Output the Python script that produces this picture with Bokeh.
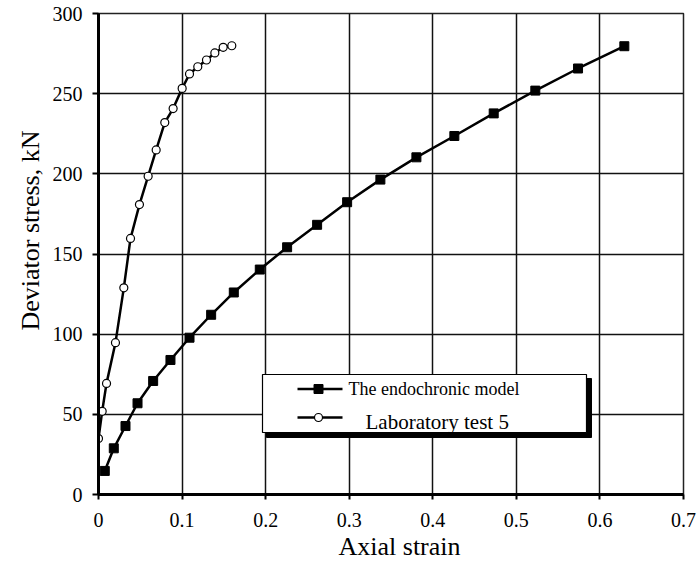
from bokeh.plotting import figure
from bokeh.models import Range1d, FixedTicker, Title
from bokeh.embed import file_html
from bokeh.resources import INLINE
from bokeh.core.properties import value

# Endochronic model prediction (axial strain vs deviator stress, kN)
model_strain = [0.0075, 0.0183, 0.0323, 0.0467, 0.0654, 0.0861, 0.1089, 0.1348,
                0.1619, 0.1930, 0.2257, 0.2616, 0.2975, 0.3373, 0.3804, 0.4258,
                0.4729, 0.5227, 0.5738, 0.6292]
model_stress = [14.7, 28.8, 42.7, 56.9, 70.8, 83.9, 97.8, 112.1,
                126.0, 140.3, 154.2, 168.2, 182.3, 196.4, 210.3, 223.6,
                237.7, 251.9, 265.7, 279.6]

# Laboratory test 5
lab_strain = [0.0, 0.0044, 0.0096, 0.0203, 0.0303, 0.0383, 0.0490, 0.0594,
              0.0690, 0.0793, 0.0893, 0.1001, 0.1089, 0.1188, 0.1292, 0.1392,
              0.1492, 0.1595]
lab_stress = [34.9, 51.9, 69.3, 94.7, 128.9, 159.7, 180.8, 198.5,
              214.9, 232.0, 240.7, 253.3, 262.3, 266.8, 271.0, 275.4,
              278.9, 279.9]

x_ticks = [0, 0.1, 0.2, 0.3, 0.4, 0.5, 0.6, 0.7]
y_ticks = [0, 50, 100, 150, 200, 250, 300]

series_names = ["The endochronic model", "Laboratory test 5"]
x_title = "Axial strain"
y_title = "Deviator stress, kN"

SERIF = "Liberation Serif"

W, H = 697, 563
BL, BR, BT, BB = 98, 14, 13, 69
X0, X1 = 0.0, 0.7
Y0, Y1 = 0.0, 300.0

p = figure(width=W, height=H, output_backend="svg", toolbar_location=None,
           x_range=Range1d(X0, X1), y_range=Range1d(Y0, Y1),
           min_border_left=BL, min_border_right=BR,
           min_border_top=BT, min_border_bottom=BB)
p.background_fill_color = "white"
p.border_fill_color = "white"
p.outline_line_color = "#222222"
p.outline_line_width = 1.5

# pixel -> data helpers for placing the legend box
fw = W - BL - BR
fh = H - BT - BB
def fx(px):
    return X0 + (px - BL) / fw * (X1 - X0)
def fy(py):
    return Y0 + (H - BB - py) / fh * (Y1 - Y0)

for ax, ticks in ((p.xaxis, x_ticks), (p.yaxis, y_ticks)):
    ax.ticker = FixedTicker(ticks=ticks)
    ax.axis_line_width = 3
    ax.axis_line_color = "black"
    ax.major_tick_line_width = 2
    ax.major_tick_line_color = "black"
    ax.major_tick_in = 0
    ax.minor_tick_line_color = None
    ax.major_label_text_font = SERIF
    ax.major_label_text_font_size = "20px"
    ax.major_label_text_color = "black"

p.xaxis.major_tick_out = 5
p.xaxis.major_label_standoff = 13
p.xaxis.major_label_overrides = {t: ("0" if t == 0 else f"{t:g}") for t in x_ticks}
p.yaxis.major_tick_out = 6
p.yaxis.major_label_standoff = 10

for g, ticks in ((p.xgrid, x_ticks), (p.ygrid, y_ticks)):
    g.ticker = FixedTicker(ticks=ticks)
    g.grid_line_color = "#111111"
    g.grid_line_width = 1.5

# curves
p.line(model_strain, model_stress, line_color="black", line_width=2.5)
p.scatter(model_strain, model_stress, marker="square", size=9,
          fill_color="black", line_color="black")
p.line(lab_strain, lab_stress, line_color="black", line_width=2.5)
p.scatter(lab_strain, lab_stress, marker="circle", size=8,
          fill_color="white", line_color="black", line_width=1.2)

# legend box with drop shadow
p.quad(left=[fx(266)], right=[fx(591)], top=[fy(378)], bottom=[fy(437)],
       fill_color="black", line_color="black")
p.quad(left=[fx(262)], right=[fx(586)], top=[fy(374)], bottom=[fy(432)],
       fill_color="white", line_color="black", line_width=1.2)

row_y = [388.5, 417]
p.line([fx(297), fx(342)], [fy(row_y[0])] * 2, line_color="black", line_width=2.5)
p.scatter([fx(318)], [fy(row_y[0])], marker="square", size=9,
          fill_color="black", line_color="black")
p.line([fx(297), fx(342)], [fy(row_y[1])] * 2, line_color="black", line_width=2.5)
p.scatter([fx(318)], [fy(row_y[1])], marker="circle", size=8,
          fill_color="white", line_color="black", line_width=1.2)

p.text(x=[fx(348)], y=[fy(row_y[0])], text=[series_names[0]],
       text_font=value(SERIF), text_font_size=value("18px"),
       text_baseline="middle", text_align="left", text_color="black")
p.text(x=[fx(365)], y=[fy(421)], text=[series_names[1]],
       text_font=value(SERIF), text_font_size=value("21px"),
       text_baseline="middle", text_align="left", text_color="black")

# axis titles as side-panel titles, anchored at their start so they sit off-centre
p.add_layout(Title(text=x_title, align="left", offset=240, standoff=0,
                   text_font=SERIF, text_font_size="26px", text_font_style="normal",
                   text_color="black"), "below")
p.add_layout(Title(text=y_title, align="left", offset=164, standoff=10,
                   text_font=SERIF, text_font_size="26px", text_font_style="normal",
                   text_color="black"), "left")

open("out.html", "w").write(file_html(p, INLINE))
